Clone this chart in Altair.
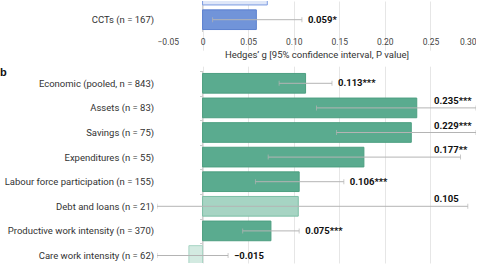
import altair as alt
import pandas as pd
import numpy as np

# ---------------- data ----------------
# panel a (top row is cut off in the reference; only its bar shows)
a_rows = ["UCTs", "CCTs (n = 167)"]
a_g = [0.071, 0.059]
a_lo = [np.nan, 0.011]
a_hi = [np.nan, 0.109]
a_text = ["", "0.059*"]
a_tone = ["a_ns", "a_sig"]

# panel b
b_rows = [
    "Economic (pooled, n = 843)",
    "Assets (n = 83)",
    "Savings (n = 75)",
    "Expenditures (n = 55)",
    "Labour force participation (n = 155)",
    "Debt and loans (n = 21)",
    "Productive work intensity (n = 370)",
    "Care work intensity (n = 62)",
]
b_g = [0.113, 0.235, 0.229, 0.177, 0.106, 0.105, 0.075, -0.015]
b_lo = [0.084, 0.125, 0.147, 0.072, 0.058, -0.05, 0.044, -0.05]
b_hi = [0.142, 0.30, 0.30, 0.283, 0.155, 0.291, 0.106, 0.028]
b_text = ["0.113***", "0.235***", "0.229***", "0.177**", "0.106***", "0.105", "0.075***", "\u22120.015"]
b_tone = ["b_sig", "b_sig", "b_sig", "b_sig", "b_sig", "b_ns", "b_sig", "b_ns2"]

x_ticks = [-0.05, 0, 0.05, 0.10, 0.15, 0.20, 0.25, 0.30]

# ---------------- styles ----------------
tone_domain = ["a_ns", "a_sig", "b_sig", "b_ns", "b_ns2"]
fill_range = ["#dfe7f8", "#7194d9", "#5aab8f", "#a6d4c3", "#d3eae1"]
stroke_range = ["#7c9be0", "#5b80cf", "#4d9f81", "#7dbfa6", "#a8d5c4"]

W = 319
STEP = 24.6
XMIN, XMAX = -0.05, 0.30
ZERO_OFF = -W * (0 - XMIN) / (XMAX - XMIN)
FONT = "Roboto"
ABOVE_X = 0.254


def frame(rows, g, lo, hi, text, tone):
    df = pd.DataFrame({"row": rows, "g": g, "lo": lo, "hi": hi, "text": text, "tone": tone})
    df["above"] = df["hi"] > 0.25
    df["lx"] = np.where(df["above"], ABOVE_X, df["hi"])
    return df


xscale = alt.Scale(domain=[XMIN, XMAX], nice=False, zero=False)
grid_color = {"condition": {"test": "datum.value < -0.01", "value": "transparent"}, "value": "#e6e6e6"}


def panel(df, yscale, yaxis, xaxis, height, title=None):
    base = alt.Chart(df)
    y = alt.Y("row:N", scale=yscale, axis=yaxis, sort=list(df["row"]))
    x = alt.X("g:Q", scale=xscale, axis=xaxis)
    zero = alt.Chart(pd.DataFrame({"z": [0]})).mark_rule(color="#cccccc", strokeWidth=1).encode(
        x=alt.X("z:Q", scale=xscale)
    )
    bars = base.mark_bar(strokeWidth=1, clip=True).encode(
        x=x,
        y=y,
        fill=alt.Fill("tone:N", scale=alt.Scale(domain=tone_domain, range=fill_range), legend=None),
        stroke=alt.Stroke("tone:N", scale=alt.Scale(domain=tone_domain, range=stroke_range), legend=None),
    )
    err_df = base.transform_filter("isValid(datum.lo)")
    err = err_df.mark_rule(color="#b4b4b4", strokeWidth=1, clip=True).encode(
        x=alt.X("lo:Q", scale=xscale), x2="hi:Q", y=y
    )
    cap_lo = err_df.mark_tick(color="#b4b4b4", thickness=1, size=5, clip=True).encode(
        x=alt.X("lo:Q", scale=xscale), y=y
    )
    cap_hi = err_df.mark_tick(color="#b4b4b4", thickness=1, size=5, clip=True).encode(
        x=alt.X("hi:Q", scale=xscale), y=y
    )
    lab_right = err_df.transform_filter("!datum.above").mark_text(
        align="left", baseline="middle", dx=6, font=FONT, fontSize=9.5, fontWeight="bold", color="#111111"
    ).encode(x=alt.X("lx:Q", scale=xscale), y=y, text="text:N")
    lab_above = err_df.transform_filter("datum.above").mark_text(
        align="left", baseline="middle", dy=-7, font=FONT, fontSize=9.5, fontWeight="bold", color="#111111"
    ).encode(x=alt.X("lx:Q", scale=xscale), y=y, text="text:N")
    props = dict(width=W, height=height)
    if title is not None:
        props["title"] = title
    return alt.layer(zero, bars, err, cap_lo, cap_hi, lab_right, lab_above).properties(**props)


dfa = frame(a_rows, a_g, a_lo, a_hi, a_text, a_tone)
dfb = frame(b_rows, b_g, b_lo, b_hi, b_text, b_tone)

HA = 31
HB = 192
ya_scale = alt.Scale(range=[HA - 2 * STEP, HA], paddingInner=0.2, paddingOuter=0.1)
yb_scale = alt.Scale(range=[0, 8 * STEP], paddingInner=0.2, paddingOuter=0.1)

label_style = dict(labelFont=FONT, labelFontSize=9.5, labelColor="#333333", labelLimit=0)

ya_axis = alt.Axis(
    title=None, domain=False, grid=False, ticks=False, values=[a_rows[1]],
    offset=ZERO_OFF, labelPadding=49, **label_style
)
yb_axis = alt.Axis(
    title=None, domain=False, grid=False, ticks=True, tickSize=3, tickColor="#cccccc",
    tickOffset=-STEP / 2, labelOffset=STEP / 2,
    offset=ZERO_OFF, labelPadding=46, **label_style
)

xa_axis = alt.Axis(
    values=x_ticks, labelExpr="datum.value == 0 ? '0' : format(datum.value, '.2f')",
    domain=False, ticks=False, grid=True, gridColor=grid_color,
    labelFont=FONT, labelFontSize=8.5, labelColor="#444444", labelPadding=5,
    title="Hedges\u2019 g [95% confidence interval, P value]",
    titleFont=FONT, titleFontSize=9.5, titleFontWeight="normal", titleColor="#333333", titlePadding=4,
)
xb_axis = alt.Axis(
    values=x_ticks, labels=False, domain=False, ticks=False, grid=True, gridColor=grid_color, title=None
)

pa = panel(dfa, ya_scale, ya_axis, xa_axis, HA)
pb = panel(
    dfb, yb_scale, yb_axis, xb_axis, HB,
    title=alt.TitleParams(
        "b", anchor="start", frame="group", dx=-157, offset=-16, baseline="alphabetic",
        font="Liberation Sans", fontSize=11, fontWeight="bold", color="#111111"
    ),
)

chart = alt.vconcat(pa, pb, spacing=7).properties(
    padding={"left": 0, "top": 0, "right": 0, "bottom": 0}
).configure_view(stroke=None)

chart.save("out.html", embed_options={"renderer": "svg", "actions": False})
